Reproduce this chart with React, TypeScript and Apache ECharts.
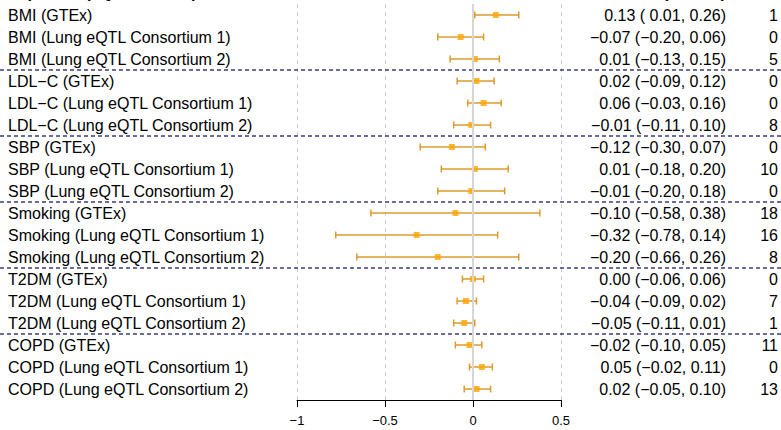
import React, { useEffect, useRef } from "react";
import * as echarts from "echarts";

const exposures = ["BMI", "LDL−C", "SBP", "Smoking", "T2DM", "COPD"];
const sources = ["GTEx", "Lung eQTL Consortium 1", "Lung eQTL Consortium 2"];
const labels = exposures.flatMap((e) => sources.map((s) => `${e} (${s})`));
const groupOf = exposures.flatMap((e) => sources.map(() => e));

const estimates = [0.13, -0.07, 0.01, 0.02, 0.06, -0.01, -0.12, 0.01, -0.01, -0.10, -0.32, -0.20, 0.00, -0.04, -0.05, -0.02, 0.05, 0.02];
const lowers = [0.01, -0.20, -0.13, -0.09, -0.03, -0.11, -0.30, -0.18, -0.20, -0.58, -0.78, -0.66, -0.06, -0.09, -0.11, -0.10, -0.02, -0.05];
const uppers = [0.26, 0.06, 0.15, 0.12, 0.16, 0.10, 0.07, 0.20, 0.18, 0.38, 0.14, 0.26, 0.06, 0.02, 0.01, 0.05, 0.11, 0.10];
const nSnps = [1, 0, 5, 0, 0, 8, 0, 10, 0, 18, 16, 8, 0, 7, 1, 11, 0, 13];
const xTicks = [-1, -0.5, 0, 0.5];

const FONT = "'Liberation Sans', Arial, Helvetica, sans-serif";
const fmt = (v: number) => (v < 0 ? "−" : "") + Math.abs(v).toFixed(2);
const ciText = labels.map(
  (_, i) => `${fmt(estimates[i])} (${lowers[i] >= 0 ? " " : ""}${fmt(lowers[i])}, ${fmt(uppers[i])})`
);
const boundaries = groupOf
  .map((g, i) => (i < groupOf.length - 1 && groupOf[i + 1] !== g ? i : -1))
  .filter((i) => i >= 0);

export default function App() {
  const ref = useRef<HTMLDivElement>(null);
  useEffect(() => {
    if (!ref.current) return;
    const chart = echarts.init(ref.current, null, { renderer: "svg" });
    const catAxisBase = {
      type: "category" as const,
      data: labels,
      inverse: true,
      axisLine: { show: false },
      axisTick: { show: false },
      splitLine: { show: false },
    };
    const labelStyle = {
      color: "#000",
      fontFamily: FONT,
      fontSize: 16,
      verticalAlign: "middle" as const,
      padding: [6, 0, 0, 0],
    };
    chart.setOption({
      animation: false,
      backgroundColor: "#fff",
      textStyle: { fontFamily: FONT },
      grid: { left: 297, right: 220, top: 4, height: 396, containLabel: false },
      graphic: [
        {
          type: "text",
          left: 8,
          top: -16,
          style: { text: "Exposure (eQTL dataset)", font: `bold 16px ${FONT}`, fill: "#000" },
        },
        {
          type: "text",
          right: 55,
          top: -16,
          style: { text: "Estimate (95% CI)", font: `bold 16px ${FONT}`, fill: "#000" },
        },
        {
          type: "text",
          right: 3,
          top: -16,
          style: { text: "N", font: `bold 16px ${FONT}`, fill: "#000" },
        },
      ],
      xAxis: {
        type: "value",
        min: -1,
        max: 0.5,
        interval: 0.5,
        axisLine: { show: true, lineStyle: { color: "#000", width: 1 } },
        axisTick: { show: true, length: 7, lineStyle: { color: "#000" } },
        axisLabel: {
          color: "#000",
          fontSize: 13,
          fontFamily: FONT,
          margin: 14,
          customValues: xTicks,
          formatter: (v: number) => (v < 0 ? "−" + Math.abs(v) : String(v)),
        },
        splitLine: { show: true, lineStyle: { color: "#cfcfcf", type: [4, 4], width: 1 } },
      },
      yAxis: [
        {
          ...catAxisBase,
          position: "left",
          axisLabel: { ...labelStyle, align: "left", margin: 289 },
        },
        {
          ...catAxisBase,
          position: "right",
          axisLabel: { ...labelStyle, align: "right", margin: 165, formatter: (_: string, i: number) => ciText[i] },
        },
        {
          ...catAxisBase,
          position: "right",
          axisLabel: { ...labelStyle, align: "right", margin: 217, formatter: (_: string, i: number) => String(nSnps[i]) },
        },
      ],
      series: [
        {
          type: "custom",
          z: 1,
          silent: true,
          data: boundaries.map((b) => [0, b]),
          markLine: {
            silent: true,
            symbol: "none",
            label: { show: false },
            lineStyle: { color: "#d6d6d6", type: "solid", width: 2 },
            data: [{ xAxis: 0 }],
          },
          renderItem: (params: any, api: any) => {
            const idx = api.value(1);
            const a = api.coord([0, idx]);
            const b = api.coord([0, idx + 1]);
            const y = (a[1] + b[1]) / 2;
            return {
              type: "line",
              shape: { x1: 0, y1: y, x2: api.getWidth(), y2: y },
              style: { stroke: "#3c3c7a", lineWidth: 1.5, lineDash: [4, 3] },
            };
          },
        },
        {
          type: "custom",
          z: 2,
          silent: true,
          data: labels.map((_, i) => [lowers[i], uppers[i], i]),
          renderItem: (params: any, api: any) => {
            const lo = api.coord([api.value(0), api.value(2)]);
            const hi = api.coord([api.value(1), api.value(2)]);
            const h = 3.5;
            const st = { stroke: "#dc9a2e", lineWidth: 1.5 };
            return {
              type: "group",
              children: [
                { type: "line", shape: { x1: lo[0], y1: lo[1], x2: hi[0], y2: hi[1] }, style: st },
                { type: "line", shape: { x1: lo[0], y1: lo[1] - h, x2: lo[0], y2: lo[1] + h }, style: st },
                { type: "line", shape: { x1: hi[0], y1: hi[1] - h, x2: hi[0], y2: hi[1] + h }, style: st },
              ],
            };
          },
        },
        {
          type: "scatter",
          z: 3,
          silent: true,
          symbol: "rect",
          symbolSize: 6,
          itemStyle: { color: "#ffa500" },
          data: estimates.map((e, i) => [e, i]),
        },
      ],
    });
    return () => chart.dispose();
  }, []);
  return (
    <div
      ref={ref}
      style={{ position: "fixed", left: 0, top: 0, width: 781, height: 430, background: "#fff" }}
    />
  );
}
